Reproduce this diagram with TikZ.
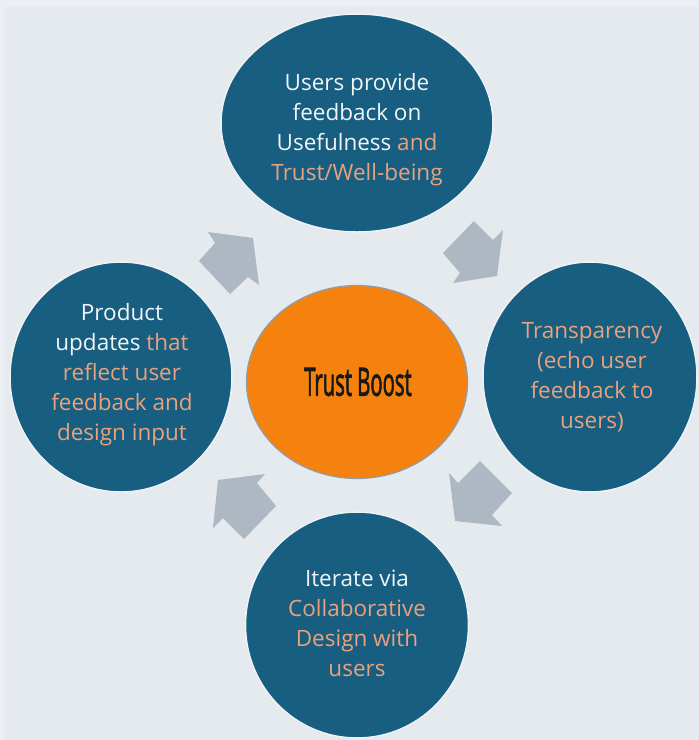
\documentclass[tikz,border=0pt]{standalone}
\usepackage{fontspec}
\setmainfont{Open Sans}
\newfontfamily\boostfont[FakeBold=2.5]{Open Sans}
\usetikzlibrary{shapes.geometric}
\definecolor{bgout}{HTML}{EBEFF3}
\definecolor{bgin}{HTML}{E5EAEE}
\definecolor{circblue}{HTML}{175E80}
\definecolor{rimwhite}{HTML}{EEF2F5}
\definecolor{peach}{HTML}{E9A27C}
\definecolor{txtwhite}{HTML}{F2F5F7}
\definecolor{boostorange}{HTML}{F5820F}
\definecolor{boostrim}{HTML}{8E9CAB}
\definecolor{arrowgray}{HTML}{ADB8C3}
\tikzset{
  bluecirc/.style={ellipse, fill=circblue, draw=rimwhite, line width=1.5pt, inner sep=0pt},
  centercirc/.style={ellipse, fill=boostorange, draw=boostrim, line width=1.2pt, inner sep=0pt},
  circtext/.style={align=center, text=txtwhite, font=\fontsize{22.5}{30}\selectfont, inner sep=0pt},
  blockarrow/.style={fill=arrowgray, draw=none}
}
\begin{document}
\begin{tikzpicture}[x=1pt,y=-1pt]
\useasboundingbox (0,0) rectangle (699,740);
\fill[bgout] (0,0) rectangle (699,740);
\fill[bgin] (4,7) rectangle (699,740);
% circles
\node[bluecirc, minimum width=272pt, minimum height=218pt] (top) at (357,123) {};
\node[bluecirc, minimum width=222pt, minimum height=230pt] (left) at (121,377) {};
\node[bluecirc, minimum width=214pt, minimum height=230pt] (right) at (590,377) {};
\node[bluecirc, minimum width=223pt, minimum height=226pt] (bottom) at (357,625) {};
\node[centercirc, minimum width=221pt, minimum height=193pt] (center) at (357,382) {};
% texts
\node[circtext] (toptext) at (357,130) {Users provide\\feedback on\\Usefulness \textcolor{peach}{and}\\\textcolor{peach}{Trust/Well-being}};
\node[circtext] (lefttext) at (122,375) {Product\\updates \textcolor{peach}{that}\\\textcolor{peach}{reflect user}\\\textcolor{peach}{feedback and}\\\textcolor{peach}{design input}};
\node[circtext, text=peach] (righttext) at (592,377) {Transparency\\(echo user\\feedback to\\users)};
\node[circtext] (bottomtext) at (357,623) {Iterate via\\\textcolor{peach}{Collaborative}\\\textcolor{peach}{Design with}\\\textcolor{peach}{users}};
\node[inner sep=0pt, text=black!90] (boosttext) at (358,382) {\scalebox{0.52}[1]{\boostfont\fontsize{39}{42}\selectfont Trust Boost}};
% block arrows
\fill[blockarrow] (253,238) -- (259,285) -- (248,277) -- (230,294) -- (199,261) -- (215,243) -- (208,232) -- cycle;
\fill[blockarrow] (497,276) -- (503,230) -- (493,240) -- (474,221) -- (443,253) -- (460,273) -- (453,283) -- cycle;
\fill[blockarrow] (455,521) -- (449,473) -- (458,483) -- (480,461) -- (512,493) -- (492,515) -- (502,526) -- cycle;
\fill[blockarrow] (218,480) -- (265,474) -- (257,483) -- (276,506) -- (244,539) -- (223,518) -- (213,528) -- cycle;
\end{tikzpicture}
\end{document}
